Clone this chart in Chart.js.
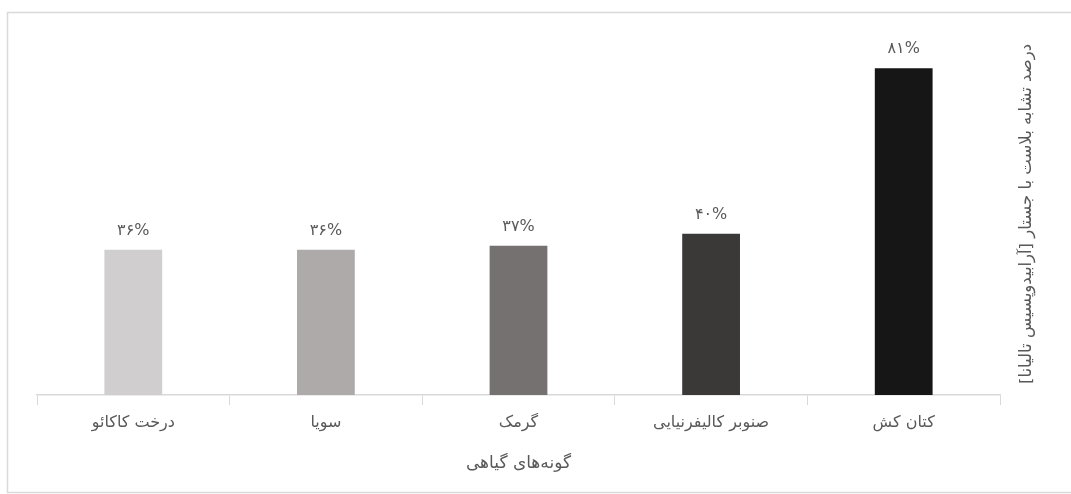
<!DOCTYPE html>
<html>
<head>
<meta charset="utf-8">
<script src="https://cdn.jsdelivr.net/npm/chart.js@4.4.0/dist/chart.umd.min.js"></script>
<style>
  html, body { margin: 0; padding: 0; background: #ffffff; }
  #wrap { width: 1071px; height: 494px; position: relative; }
</style>
</head>
<body>
<div id="wrap"><canvas id="myChart"></canvas></div>
<script>
// datos del gráfico
const categories = ["درخت کاکائو", "سویا", "گرمک", "صنوبر کالیفرنیایی", "کتان کش"];
const values = [36, 36, 37, 40, 81];
const barColors = ["#d0cece", "#aeaaaa", "#767171", "#3b3838", "#161616"];
const xTitle = "گونه\u200cهای گیاهی";
const yTitle = "درصد تشابه بلاست با جستار [آرابیدوپسیس تالیانا]";

const fontName = "'DejaVu Sans', sans-serif";
const textColor = "#595959";

// dígitos persas
function toPersian(n) {
  return String(n).replace(/[0-9]/g, (d) => "۰۱۲۳۴۵۶۷۸۹"[d]);
}

// marco exterior (izquierda, arriba, abajo)
const framePlugin = {
  id: "frame",
  beforeDraw(chart) {
    const ctx = chart.ctx;
    ctx.save();
    ctx.fillStyle = "#ffffff";
    ctx.fillRect(0, 0, chart.width, chart.height);
    ctx.strokeStyle = "#d9d9d9";
    ctx.lineWidth = 1.5;
    ctx.beginPath();
    ctx.moveTo(chart.width, 12.5);
    ctx.lineTo(7.5, 12.5);
    ctx.lineTo(7.5, 492.5);
    ctx.lineTo(chart.width, 492.5);
    ctx.stroke();
    ctx.restore();
  }
};

// etiquetas encima de las barras y título vertical
const labelsPlugin = {
  id: "barLabels",
  afterDatasetsDraw(chart) {
    const ctx = chart.ctx;
    const meta = chart.getDatasetMeta(0);
    ctx.save();
    ctx.fillStyle = textColor;
    ctx.font = "16px " + fontName;
    ctx.textAlign = "center";
    ctx.textBaseline = "middle";
    meta.data.forEach((bar, i) => {
      ctx.fillText(toPersian(values[i]) + "%", bar.x, bar.y - 19);
    });

    ctx.translate(1027, 214);
    ctx.rotate(-Math.PI / 2);
    ctx.direction = "rtl";
    ctx.font = "16.5px " + fontName;
    ctx.fillText(yTitle, 0, 0);
    ctx.restore();
  }
};

const config = {
  type: "bar",
  data: {
    labels: categories,
    datasets: [
      {
        data: values,
        backgroundColor: barColors,
        borderWidth: 0,
        barPercentage: 0.3,
        categoryPercentage: 1
      }
    ]
  },
  options: {
    responsive: false,
    animation: false,
    devicePixelRatio: 1,
    layout: { padding: { left: 37, right: 71, top: 32, bottom: 0 } },
    plugins: {
      legend: { display: false },
      tooltip: { enabled: false }
    },
    scales: {
      x: {
        afterFit(scale) {
          scale.height = 99;
        },
        grid: {
          display: true,
          drawOnChartArea: false,
          offset: true,
          tickLength: 10,
          color: "#d9d9d9"
        },
        border: { color: "#d9d9d9", width: 1.5 },
        ticks: {
          color: textColor,
          font: { family: fontName, size: 16 },
          padding: 8
        },
        title: {
          display: true,
          text: xTitle,
          color: textColor,
          font: { family: fontName, size: 17 },
          padding: { top: 0, bottom: 20 }
        }
      },
      y: {
        display: false,
        min: 0,
        max: 90
      }
    }
  },
  plugins: [framePlugin, labelsPlugin]
};

const canvas = document.getElementById("myChart");
canvas.width = 1071;
canvas.height = 494;
new Chart(canvas, config);
</script>
</body>
</html>
